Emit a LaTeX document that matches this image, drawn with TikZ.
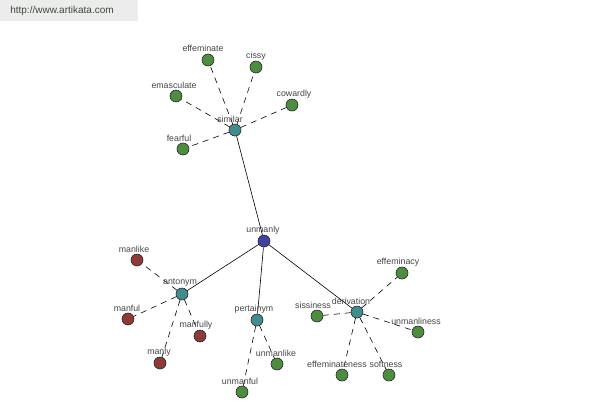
\documentclass[tikz,border=0pt]{standalone}
\usepackage{fontspec}
\setmainfont{Liberation Sans}
\definecolor{gfill}{RGB}{78,140,66}
\definecolor{rfill}{RGB}{140,58,58}
\definecolor{tfill}{RGB}{66,140,142}
\definecolor{bfill}{RGB}{66,66,160}
\definecolor{lblc}{RGB}{70,70,70}
\definecolor{wmbg}{RGB}{236,236,236}
\definecolor{wmtext}{RGB}{60,72,60}
\begin{document}
\begin{tikzpicture}[x=1pt,y=-1pt,
  dot/.style={circle,draw=black!85,line width=0.6pt,minimum size=12pt,inner sep=0pt},
  gdot/.style={dot,fill=gfill},
  rdot/.style={dot,fill=rfill},
  tdot/.style={dot,fill=tfill},
  bdot/.style={dot,fill=bfill},
  lbl/.style={font=\fontsize{8.8}{9}\selectfont,text=lblc,inner sep=0pt},
  soledge/.style={draw=black,line width=0.6pt},
  dashedge/.style={draw=black,line width=0.6pt,dash pattern=on 6pt off 5pt}]
\useasboundingbox (0,0) rectangle (600,400);
\fill[white] (0,0) rectangle (600,400);
% watermark
\node[fill=wmbg,minimum width=138pt,minimum height=21pt,anchor=north west,inner sep=0pt] (wm) at (0,0) {};
\node[font=\fontsize{10}{11}\selectfont,text=wmtext,inner sep=0pt] (wmt) at (62,11) {http://www.artikata.com};
% nodes
\node[bdot] (unmanly) at (264,241) {};
\node[tdot] (similar) at (235,130) {};
\node[tdot] (antonym) at (182,294) {};
\node[tdot] (pertainym) at (257,320) {};
\node[tdot] (derivation) at (357,312) {};
\node[gdot] (effeminate) at (208,60) {};
\node[gdot] (cissy) at (256,67) {};
\node[gdot] (emasculate) at (176,96) {};
\node[gdot] (cowardly) at (292,105) {};
\node[gdot] (fearful) at (183,149) {};
\node[rdot] (manlike) at (137,260) {};
\node[rdot] (manful) at (128,319) {};
\node[rdot] (manfully) at (200,336) {};
\node[rdot] (manly) at (160,363) {};
\node[gdot] (unmanlike) at (277,364) {};
\node[gdot] (unmanful) at (242,392) {};
\node[gdot] (effeminacy) at (402,273) {};
\node[gdot] (sissiness) at (317,316) {};
\node[gdot] (unmanliness) at (418,332) {};
\node[gdot] (effeminateness) at (342,375) {};
\node[gdot] (softness) at (389,375) {};
% edges
\draw[soledge] (unmanly) -- (similar);
\draw[soledge] (unmanly) -- (antonym);
\draw[soledge] (unmanly) -- (pertainym);
\draw[soledge] (unmanly) -- (derivation);
\foreach \t in {effeminate,cissy,emasculate,cowardly,fearful}
  \draw[dashedge] (similar) -- (\t);
\foreach \t in {manlike,manful,manfully,manly}
  \draw[dashedge] (antonym) -- (\t);
\foreach \t in {unmanlike,unmanful}
  \draw[dashedge] (pertainym) -- (\t);
\foreach \t in {effeminacy,sissiness,unmanliness,effeminateness,softness}
  \draw[dashedge] (derivation) -- (\t);
% labels
\node[lbl] (l-unmanly) at (263,230) {unmanly};
\node[lbl] (l-similar) at (230,119) {similar};
\node[lbl] (l-antonym) at (180,283) {antonym};
\node[lbl] (l-pertainym) at (254,309) {pertainym};
\node[lbl] (l-derivation) at (351,301) {derivation};
\node[lbl] (l-effeminate) at (203,48) {effeminate};
\node[lbl] (l-cissy) at (256,56) {cissy};
\node[lbl] (l-emasculate) at (174,85) {emasculate};
\node[lbl] (l-cowardly) at (294,94) {cowardly};
\node[lbl] (l-fearful) at (179,138) {fearful};
\node[lbl] (l-manlike) at (134,249) {manlike};
\node[lbl] (l-manful) at (127,308) {manful};
\node[lbl] (l-manfully) at (196,325) {manfully};
\node[lbl] (l-manly) at (159,352) {manly};
\node[lbl] (l-unmanlike) at (276,353) {unmanlike};
\node[lbl] (l-unmanful) at (240,381) {unmanful};
\node[lbl] (l-effeminacy) at (398,262) {effeminacy};
\node[lbl] (l-sissiness) at (313,305) {sissiness};
\node[lbl] (l-unmanliness) at (416,321) {unmanliness};
\node[lbl] (l-effeminateness) at (337,364) {effeminateness};
\node[lbl] (l-softness) at (386,364) {softness};
\end{tikzpicture}
\end{document}
